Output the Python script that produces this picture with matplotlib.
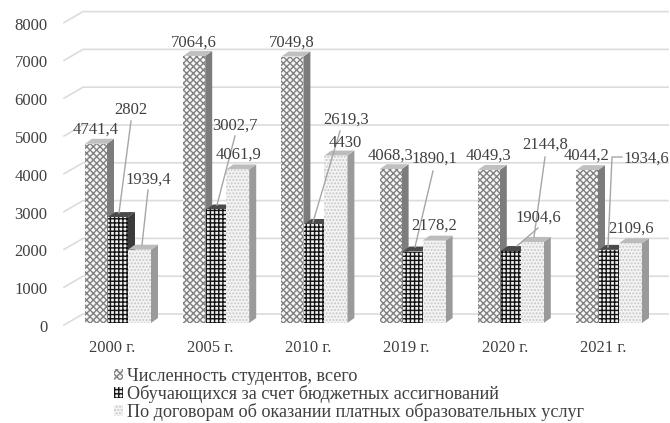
#!/usr/bin/env python
import matplotlib
matplotlib.use('Agg')
import matplotlib.pyplot as plt
from matplotlib.patches import Patch, Polygon
from matplotlib.transforms import ScaledTranslation

plt.rcParams['font.family'] = ['Liberation Serif', 'DejaVu Serif']
plt.rcParams['hatch.linewidth'] = 1.0

#-----
# Data
#-----
years = ['2000 г.', '2005 г.', '2010 г.', '2019 г.', '2020 г.', '2021 г.']
total = [4741.4, 7064.6, 7049.8, 4068.3, 4049.3, 4044.2]
budget = [2802, 3002.7, 2619.3, 1890.1, 1904.6, 1934.6]
paid = [1939.4, 4061.9, 4430, 2178.2, 2144.8, 2109.6]
names = ['Численность студентов, всего',
         'Обучающихся за счет бюджетных ассигнований',
         'По договорам об оказании платных образовательных услуг']
yticks = [0, 1000, 2000, 3000, 4000, 5000, 6000, 7000, 8000]

W, H = 670, 423
GROUP = 98.2      # px between groups
SCALE = 0.0378    # px per unit
BASE = 323.0      # px of y=0
X0 = 118          # px of the first group
DEPTH_X, DEPTH_Y = 7 / GROUP, 5 / SCALE
BACK_Y = 9.0 / SCALE
TEXT = '#404040'

fig = plt.figure(figsize=(W / 100, H / 100), dpi=100)
left, right = 83, 668
ax = fig.add_axes([left / W, 1 - BASE / H, (right - left) / W, 8000 * SCALE / H])
ax.set_xlim((left - X0) / GROUP, (right - X0) / GROUP)
ax.set_ylim(0, 8000)
for s in ax.spines.values():
    s.set_visible(False)
ax.patch.set_visible(False)
ax.set_yticks(yticks)
ax.set_yticklabels([str(t) for t in yticks], fontsize=12, color=TEXT)
ax.set_xticks([i - 0.06 for i in range(len(years))])
ax.set_xticklabels(years, fontsize=12, color=TEXT)
ax.tick_params(length=0)
ax.tick_params(axis='y', pad=25.5)
ax.tick_params(axis='x', pad=12)
# y labels sit a little under their grid level
shift = ScaledTranslation(0, -3 / 100, fig.dpi_scale_trans)
for lab in ax.get_yticklabels():
    lab.set_transform(lab.get_transform() + shift)

#-------------------------
# Back wall grid and slants
#-------------------------
slant = 19 / GROUP
xl = ax.get_xlim()
for t in yticks:
    ax.plot([xl[0] - slant, xl[0], xl[1]],
            [t - 2 / SCALE, t + BACK_Y, t + BACK_Y],
            color='#dcdcdc', lw=1.2, zorder=1, clip_on=False)

#-----
# Bars
#-----
styles = [
    dict(offset=-33 / GROUP, width=22 / GROUP, face='#f6f6f6', edge='#808080', hatch='xxxxx',
         side='#7c7c7c', top='#c0c0c0'),
    dict(offset=-10 / GROUP, width=20 / GROUP, face='#f0f0f0', edge='#141414', hatch='++++',
         side='#3a3a3a', top='#4a4a4a'),
    dict(offset=10 / GROUP, width=23 / GROUP, face='#f4f4f4', edge='#c8c8c8', hatch='.....',
         side='#9a9a9a', top='#bcbcbc'),
]
series = [total, budget, paid]
for i in range(len(years)):
    for vals, st in zip(series, styles):
        x0 = i + st['offset']
        x1 = x0 + st['width']
        v = vals[i]
        ax.add_patch(Polygon([(x1, 0), (x1 + DEPTH_X, DEPTH_Y), (x1 + DEPTH_X, v + DEPTH_Y), (x1, v)],
                             facecolor=st['side'], edgecolor='none', zorder=3))
        ax.add_patch(Polygon([(x0, v), (x0 + DEPTH_X, v + DEPTH_Y), (x1 + DEPTH_X, v + DEPTH_Y), (x1, v)],
                             facecolor=st['top'], edgecolor='none', zorder=3))
        ax.bar(x0, v, st['width'], align='edge', facecolor=st['face'], edgecolor=st['edge'],
               hatch=st['hatch'], lw=0, zorder=3)

#-----------------------------------
# Value labels, hand placed in pixels
#-----------------------------------
def fp(px, py):
    return px / W, 1 - py / H

label_pos = [
    [(96, 130), (131, 110), (148, 180)],
    [(194, 43), (235, 126), (238, 155)],
    [(292, 43), (346, 120), (345, 143)],
    [(391, 156), (434, 159), (434, 226)],
    [(488, 156), (538, 218), (545, 145)],
    [(587, 156), (646, 159), (631, 229)],
]
leaders = [
    [(131, 121), (119, 213)],
    [(148, 190), (142, 245)],
    [(235, 136), (217, 205)],
    [(340, 131), (313, 222)],
    [(433, 171), (415, 247)],
    [(545, 157), (534, 237)],
    [(538, 228), (517, 246)],
    [(622, 157), (612, 157), (608, 247)],
]
for pts in leaders:
    xs, ys = zip(*[fp(*p) for p in pts])
    fig.add_artist(plt.Line2D(xs, ys, color='#a6a6a6', lw=1.0, zorder=5))

for i in range(len(years)):
    for vals, pos in zip(series, label_pos[i]):
        txt = f'{vals[i]:g}'.replace('.', ',')
        fig.text(*fp(*pos), txt, fontsize=12, color=TEXT, ha='center', va='center', zorder=6)

#-------
# Legend
#-------
handles = [Patch(facecolor=st['face'], edgecolor=st['edge'], hatch=st['hatch'], lw=0) for st in styles]
fig.legend(handles, names, loc='upper left', bbox_to_anchor=(114 / W, 1 - 368 / H),
           frameon=False, fontsize=13.05, labelcolor=TEXT, handlelength=0.5, handleheight=0.5,
           handletextpad=0.2, labelspacing=0.0, borderpad=0, borderaxespad=0)

plt.savefig('out.png', dpi=100)
